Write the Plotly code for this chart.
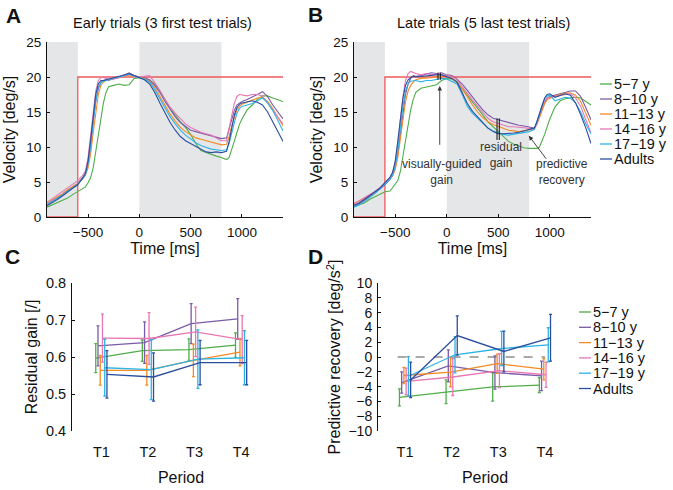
import plotly.graph_objects as go

W, H = 673, 490

# ---------------- data ----------------
GROUPS = ["5\u22127 y", "8\u221210 y", "11\u221213 y", "14\u221216 y", "17\u221219 y", "Adults"]
COLORS = ["#4fae4a", "#7a5ba8", "#f48a25", "#e877b4", "#2eb3e6", "#2b4f9e"]

TIME = [-900, -850, -800, -750, -700, -650, -600, -550,
        -525, -500, -475, -450, -425, -400, -375, -350, -325, -300,
        -250, -200, -150, -100, -50, 0, 50, 100, 150, 200, 250, 300, 350, 400,
        450, 500, 550, 600, 650, 700, 750, 800, 850,
        875, 900, 925, 950, 975, 1000,
        1050, 1100, 1150, 1200, 1250, 1300, 1350, 1400]

TARGET_T = [-900, -600, -600, 1400]
TARGET_V = [0, 0, 20, 20]

early_5_7 = [1.4, 1.7, 2.0, 2.3, 2.7, 3.2, 3.6, 4.0,
             4.3, 4.9, 5.6, 7.0, 9.5, 12.0, 14.5, 16.3, 17.8, 18.6,
             18.8, 19.0, 18.8, 18.9, 19.8, 19.9, 19.7, 19.5, 19.0, 18.0, 16.8, 15.5, 14.6, 13.6,
             12.8, 11.8, 10.5, 9.5, 9.2, 8.9, 8.7, 8.5, 8.2,
             8.5, 9.5, 10.8, 12.0, 13.2, 14.0,
             15.3, 16.0, 16.8, 17.3, 17.3, 17.0, 16.7, 16.5]
early_8_10 = [1.7, 2.2, 2.7, 3.2, 3.8, 4.3, 4.8, 5.7,
              6.2, 7.5, 10.0, 13.5, 16.5, 18.3, 19.2, 19.5, 19.6, 19.5,
              19.8, 19.9, 20.2, 20.6, 20.2, 19.9, 19.9, 19.6, 18.8, 17.8, 16.5, 15.3, 14.3, 13.5,
              12.9, 12.4, 12.2, 12.0, 11.9, 11.7, 11.4, 11.2, 11.3,
              12.5, 14.0, 15.2, 16.0, 16.3, 16.5,
              16.8, 17.1, 17.5, 17.9, 17.2, 16.0, 15.0, 14.0]
early_11_13 = [2.0, 2.4, 2.8, 3.3, 3.9, 4.4, 4.8, 5.5,
               6.0, 7.0, 9.0, 12.0, 15.0, 17.5, 18.8, 19.3, 19.5, 19.6,
               19.8, 19.9, 20.1, 20.3, 20.2, 20.0, 19.8, 19.4, 18.5, 17.2, 15.9, 14.7, 13.7, 12.8,
               12.2, 11.7, 11.3, 11.1, 10.9, 10.7, 10.5, 10.3, 10.4,
               11.5, 13.0, 14.3, 15.3, 15.8, 16.1,
               16.4, 16.7, 17.0, 17.1, 16.5, 15.5, 14.3, 13.0]
early_14_16 = [2.1, 2.6, 3.2, 3.7, 4.2, 4.7, 5.2, 6.0,
               6.6, 8.5, 11.5, 15.0, 18.0, 19.5, 19.9, 20.0, 19.7, 19.9,
               19.7, 19.9, 20.1, 20.4, 20.2, 20.0, 20.1, 20.2, 19.2, 18.1, 16.8, 15.7, 14.8, 14.0,
               13.3, 12.8, 12.4, 12.1, 11.9, 11.7, 11.3, 10.9, 10.9,
               12.5, 14.5, 16.2, 17.2, 17.5, 17.4,
               17.3, 17.5, 17.5, 17.3, 16.3, 15.2, 14.3, 13.3]
early_17_19 = [1.8, 2.2, 2.6, 3.1, 3.7, 4.2, 4.7, 5.5,
               6.0, 7.5, 10.0, 13.5, 16.5, 18.5, 19.2, 19.4, 19.5, 19.6,
               19.8, 20.0, 20.1, 20.4, 20.1, 19.9, 19.7, 19.3, 18.2, 16.9, 15.5, 14.3, 13.3, 12.4,
               11.7, 11.1, 10.6, 10.2, 9.9, 9.7, 9.6, 9.5, 9.6,
               10.5, 12.0, 13.5, 14.8, 15.5, 15.8,
               16.0, 16.2, 16.6, 17.0, 16.3, 15.2, 13.8, 12.3]
early_adults = [1.6, 2.0, 2.5, 3.0, 3.6, 4.1, 4.6, 5.6,
                6.3, 8.0, 11.0, 14.5, 17.5, 19.0, 19.5, 19.5, 19.6, 19.7,
                19.9, 20.0, 20.2, 20.5, 20.2, 19.9, 19.6, 19.0, 17.8, 16.3, 14.8, 13.5, 12.4, 11.5,
                10.9, 10.5, 10.1, 9.6, 9.3, 9.2, 9.3, 9.2, 9.4,
                10.8, 12.8, 14.5, 15.6, 16.1, 16.3,
                16.5, 16.6, 16.4, 16.0, 15.0, 13.5, 12.2, 10.8]

late_5_7 = [1.5, 1.7, 2.0, 2.5, 2.9, 3.3, 3.6, 3.7,
            4.2, 4.6, 5.2, 6.5, 8.8, 11.0, 13.5, 15.3, 16.8, 17.8,
            18.4, 18.6, 18.7, 18.9, 19.5, 19.8, 19.7, 19.2, 18.3, 17.4, 16.4, 15.5, 14.6, 13.6,
            12.9, 12.2, 11.5, 10.8, 10.4, 10.1, 9.9, 9.8, 9.8,
            9.8, 10.0, 10.8, 11.8, 12.9, 14.0,
            15.7, 16.6, 16.9, 17.0, 17.1, 17.0, 16.5, 16.0]
late_8_10 = [1.6, 1.9, 2.4, 2.9, 3.4, 4.0, 4.6, 5.4,
             6.0, 7.0, 9.0, 12.0, 15.0, 17.5, 19.0, 19.8, 20.2, 20.1,
             20.2, 20.4, 20.6, 20.5, 20.6, 20.3, 20.2, 19.7, 19.0, 18.1, 17.1, 16.2, 15.3, 14.6,
             14.1, 13.9, 13.6, 13.5, 13.3, 13.1, 13.0, 12.9, 12.7,
             13.3, 14.2, 15.3, 16.3, 17.0, 17.2,
             17.4, 17.6, 17.9, 18.0, 18.0, 17.2, 15.6, 13.9]
late_11_13 = [2.0, 2.2, 2.6, 3.0, 3.5, 4.1, 4.8, 5.4,
              5.9, 6.8, 8.5, 11.0, 14.0, 16.5, 18.0, 18.8, 19.3, 19.6,
              19.8, 19.8, 19.9, 20.0, 20.1, 20.0, 19.8, 19.3, 18.3, 17.2, 16.0, 15.0, 14.2, 13.6,
              13.2, 12.9, 12.6, 12.4, 12.3, 12.2, 12.3, 12.5, 12.6,
              13.3, 14.3, 15.3, 16.2, 16.8, 17.0,
              17.3, 17.5, 17.7, 17.7, 17.4, 16.5, 14.8, 13.1]
late_14_16 = [1.9, 2.3, 2.7, 3.1, 3.6, 4.2, 4.9, 5.6,
              6.3, 7.8, 10.5, 14.0, 17.2, 19.5, 20.5, 20.8, 20.6, 20.5,
              20.3, 20.5, 20.3, 20.4, 20.3, 20.2, 20.1, 19.6, 18.6, 17.7, 16.7, 15.8, 14.9, 14.1,
              13.6, 13.4, 13.1, 12.9, 12.9, 12.8, 12.7, 12.6, 12.6,
              13.4, 14.6, 15.8, 16.6, 17.0, 17.1,
              17.2, 17.4, 17.5, 17.6, 17.0, 15.8, 13.9, 12.0]
late_17_19 = [1.4, 1.7, 2.2, 2.7, 3.3, 4.0, 4.7, 5.4,
              6.0, 7.2, 9.5, 12.8, 15.8, 18.0, 19.0, 19.4, 19.5, 19.5,
              19.3, 19.5, 19.5, 19.7, 19.8, 19.7, 19.4, 19.0, 17.5, 15.8, 14.8, 14.1, 13.3, 12.7,
              12.3, 12.0, 11.8, 11.7, 11.8, 11.9, 12.1, 12.2, 12.5,
              13.5, 14.8, 16.0, 16.9, 17.3, 17.4,
              16.6, 16.9, 17.1, 17.0, 16.3, 15.0, 13.3, 11.9]
late_adults = [1.7, 2.0, 2.5, 3.0, 3.5, 4.1, 4.9, 5.7,
               6.4, 8.0, 10.8, 14.2, 17.0, 18.8, 19.6, 19.9, 20.1, 20.0,
               20.1, 20.2, 20.3, 20.3, 20.3, 20.1, 19.8, 19.3, 17.8, 16.2, 15.1, 14.3, 13.4, 12.7,
               12.2, 11.9, 11.9, 11.9, 12.0, 12.1, 12.3, 12.4, 12.7,
               13.6, 14.8, 16.1, 17.0, 17.5, 17.6,
               17.1, 17.3, 17.6, 17.4, 16.3, 14.6, 12.7, 10.5]

PERIODS = [1, 2, 3, 4]
PERIOD_LABELS = ["T1", "T2", "T3", "T4"]

gain_5_7 = [0.597, 0.617, 0.620, 0.632]
gain_8_10 = [0.630, 0.639, 0.690, 0.703]
gain_11_13 = [0.564, 0.564, 0.591, 0.613]
gain_14_16 = [0.651, 0.650, 0.668, 0.647]
gain_17_19 = [0.571, 0.566, 0.594, 0.598]
gain_adults = [0.553, 0.546, 0.585, 0.585]
gain_err_5_7 = [0.039, 0.029, 0.029, 0.033]
gain_err_8_10 = [0.054, 0.056, 0.054, 0.055]
gain_err_11_13 = [0.040, 0.040, 0.044, 0.037]
gain_err_14_16 = [0.065, 0.070, 0.067, 0.065]
gain_err_17_19 = [0.077, 0.081, 0.079, 0.073]
gain_err_adults = [0.064, 0.065, 0.060, 0.060]

rec_5_7 = [-5.45, -4.7, -4.05, -3.8]
rec_8_10 = [-3.45, -1.2, -2.1, -2.55]
rec_11_13 = [-2.5, -2.05, -0.9, -1.65]
rec_14_16 = [-3.3, -2.7, -1.85, -2.4]
rec_17_19 = [-2.6, 0.3, 1.15, 1.65]
rec_adults = [-3.1, 2.9, 0.75, 2.6]
rec_err_5_7 = [1.15, 1.6, 1.9, 1.0]
rec_err_8_10 = [1.43, 2.15, 2.25, 2.0]
rec_err_11_13 = [1.1, 2.0, 1.3, 1.45]
rec_err_14_16 = [1.8, 2.5, 2.3, 1.7]
rec_err_17_19 = [2.65, 2.45, 2.3, 2.3]
rec_err_adults = [2.4, 2.65, 2.75, 3.15]

EARLY = [early_5_7, early_8_10, early_11_13, early_14_16, early_17_19, early_adults]
LATE = [late_5_7, late_8_10, late_11_13, late_14_16, late_17_19, late_adults]
GAIN = [gain_5_7, gain_8_10, gain_11_13, gain_14_16, gain_17_19, gain_adults]
GAIN_ERR = [gain_err_5_7, gain_err_8_10, gain_err_11_13, gain_err_14_16, gain_err_17_19, gain_err_adults]
REC = [rec_5_7, rec_8_10, rec_11_13, rec_14_16, rec_17_19, rec_adults]
REC_ERR = [rec_err_5_7, rec_err_8_10, rec_err_11_13, rec_err_14_16, rec_err_17_19, rec_err_adults]

# ---------------- style ----------------
FONT = "Liberation Sans, Arial, sans-serif"
DODGE = [-0.12, -0.072, -0.024, 0.024, 0.072, 0.12]
GRAY = "#e5e6e8"
RED = "#ef5a5a"

def px_x(p):
    return p / W

def px_y(p):
    return 1 - p / H

fig = go.Figure()

# panels A and B
for series, xa, ya in [(EARLY, "x", "y"), (LATE, "x2", "y2")]:
    fig.add_trace(go.Scatter(x=TARGET_T, y=TARGET_V, mode="lines", xaxis=xa, yaxis=ya,
                             line=dict(color=RED, width=1.3), showlegend=False, hoverinfo="skip"))
    for vals, col, name in zip(series, COLORS, GROUPS):
        fig.add_trace(go.Scatter(x=TIME, y=vals, mode="lines", name=name, xaxis=xa, yaxis=ya,
                                 line=dict(color=col, width=1.1), showlegend=False))

# panels C and D
for series, errs, xa, ya in [(GAIN, GAIN_ERR, "x3", "y3"), (REC, REC_ERR, "x4", "y4")]:
    for i, (vals, err, col, name) in enumerate(zip(series, errs, COLORS, GROUPS)):
        fig.add_trace(go.Scatter(
            x=[p + DODGE[i] for p in PERIODS], y=vals, mode="lines", name=name,
            xaxis=xa, yaxis=ya, line=dict(color=col, width=1.3), showlegend=False,
            error_y=dict(type="data", array=err, visible=True, color=col, thickness=1.3, width=1.5)))

tickfont_ab = dict(family=FONT, size=13.5, color="#111")
tickfont_cd = dict(family=FONT, size=14.5, color="#111")
tickfont_d = dict(family=FONT, size=14, color="#111")
titlefont = dict(family=FONT, size=16, color="#111")

common_line = dict(showline=True, linecolor="#111", linewidth=1, ticks="inside", ticklen=3,
                   tickcolor="#111", showgrid=False, zeroline=False, automargin=False)

fig.update_layout(
    width=W, height=H, margin=dict(l=0, r=0, t=0, b=0, autoexpand=False),
    paper_bgcolor="white", plot_bgcolor="white", showlegend=False,
    xaxis=dict(domain=[px_x(47), px_x(283)], range=[-900, 1400], tickvals=[-500, 0, 500, 1000],
               anchor="y", tickfont=tickfont_ab, title=dict(text="Time [ms]", font=titlefont, standoff=0),
               ticklabelstandoff=3, **common_line),
    yaxis=dict(domain=[px_y(217), px_y(42)], range=[0, 25], tickvals=[0, 5, 10, 15, 20, 25],
               anchor="x", tickfont=tickfont_ab, title=dict(text="Velocity [deg/s]", font=titlefont, standoff=6),
               ticklabelstandoff=2, **common_line),
    xaxis2=dict(domain=[px_x(354), px_x(591)], range=[-900, 1400], tickvals=[-500, 0, 500, 1000],
                anchor="y2", tickfont=tickfont_ab, title=dict(text="Time [ms]", font=titlefont, standoff=0),
                ticklabelstandoff=3, **common_line),
    yaxis2=dict(domain=[px_y(217), px_y(42)], range=[0, 25], tickvals=[0, 5, 10, 15, 20, 25],
                anchor="x2", tickfont=tickfont_ab, title=dict(text="Velocity [deg/s]", font=titlefont, standoff=6),
                ticklabelstandoff=2, **common_line),
    xaxis3=dict(domain=[px_x(72), px_x(290)], range=[0.37, 5.05], tickvals=PERIODS, ticktext=PERIOD_LABELS,
                anchor="y3", tickfont=tickfont_cd, showline=False, ticks="", showgrid=False, zeroline=False,
                automargin=False, title=dict(text="Period", font=titlefont, standoff=13), ticklabelstandoff=10),
    yaxis3=dict(domain=[px_y(431), px_y(283)], range=[0.4, 0.8], tickvals=[0.4, 0.5, 0.6, 0.7, 0.8],
                tickformat=".1f", anchor="x3", tickfont=tickfont_cd,
                title=dict(text="Residual gain [/]", font=titlefont, standoff=4),
                ticklabelstandoff=2, **common_line),
    xaxis4=dict(domain=[px_x(378), px_x(592)], range=[0.42, 5.01], tickvals=PERIODS, ticktext=PERIOD_LABELS,
                anchor="y4", tickfont=tickfont_cd, showline=False, ticks="", showgrid=False, zeroline=False,
                automargin=False, title=dict(text="Period", font=titlefont, standoff=13), ticklabelstandoff=10),
    yaxis4=dict(domain=[px_y(431), px_y(283)], range=[-10, 10], tickvals=list(range(-10, 11, 2)),
                anchor="x4", tickfont=tickfont_d,
                title=dict(text="Predictive recovery [deg/s<sup>2</sup>]", font=titlefont, standoff=3),
                ticklabelstandoff=2, **common_line),
)

shapes = []
# gray shaded windows (blanking periods)
for xr, yr in [("x", "y"), ("x2", "y2")]:
    for x0, x1 in [(-900, -600), (0, 800)]:
        shapes.append(dict(type="rect", xref=xr, yref=yr, x0=x0, x1=x1, y0=0, y1=25,
                           fillcolor=GRAY, line=dict(width=0), layer="below"))
# zero line in D
shapes.append(dict(type="line", xref="x4", yref="y4", x0=0.84, x1=4.0, y0=0, y1=0,
                   line=dict(color="#555", width=1, dash="dash"), layer="below"))
# measurement marks in B
VG_MARKS = [(-85, -62), (19.6, 20.6)]
RG_MARKS = [(488, 510), (11.0, 14.1)]
for (xs, (y0, y1)) in [VG_MARKS, RG_MARKS]:
    for xm in xs:
        shapes.append(dict(type="line", xref="x2", yref="y2", x0=xm, x1=xm, y0=y0, y1=y1,
                           line=dict(color="#111", width=1)))

annotations = []
# manual legends (B and D)
for lx0, ly0, dy in [(600, 84, 15), (579, 312, 15.3)]:
    for i, (name, col) in enumerate(zip(GROUPS, COLORS)):
        yy = ly0 + i * dy
        shapes.append(dict(type="line", xref="paper", yref="paper", x0=px_x(lx0), x1=px_x(lx0 + 12),
                           y0=px_y(yy), y1=px_y(yy), line=dict(color=col, width=1.3)))
        annotations.append(dict(xref="paper", yref="paper", x=px_x(lx0 + 12), y=px_y(yy), text=name,
                                showarrow=False, xanchor="left", yanchor="middle",
                                font=dict(family=FONT, size=14.5, color="#111")))

# panel titles
annotations.append(dict(xref="paper", yref="paper", x=px_x(162), y=px_y(23),
                        text="Early trials (3 first test trials)", showarrow=False,
                        xanchor="center", yanchor="middle",
                        font=dict(family=FONT, size=14.5, color="#111")))
annotations.append(dict(xref="paper", yref="paper", x=px_x(483), y=px_y(23),
                        text="Late trials (5 last test trials)", showarrow=False,
                        xanchor="center", yanchor="middle",
                        font=dict(family=FONT, size=14.5, color="#111")))
# panel letters
for letter, lx, ly in [("A", 13, 15), ("B", 315, 14), ("C", 12, 256), ("D", 315, 256)]:
    annotations.append(dict(xref="paper", yref="paper", x=px_x(lx), y=px_y(ly), text="<b>%s</b>" % letter,
                            showarrow=False, xanchor="center", yanchor="middle",
                            font=dict(family=FONT, size=21, color="#111")))

# B annotations
ann_font = dict(family=FONT, size=12, color="#333")
annotations.append(dict(xref="x2", yref="y2", x=-49, y=6.4, text="visually-guided<br>gain",
                        showarrow=False, xanchor="center", yanchor="middle", font=ann_font))
annotations.append(dict(xref="x2", yref="y2", x=527, y=8.8, text="residual<br>gain",
                        showarrow=False, xanchor="center", yanchor="middle", font=ann_font))
annotations.append(dict(xref="x2", yref="y2", x=1122, y=6.4, text="predictive<br>recovery",
                        showarrow=False, xanchor="center", yanchor="middle", font=ann_font))
annotations.append(dict(xref="x2", yref="y2", x=-68, y=18.7, ax=-68, ay=10.1, axref="x2", ayref="y2",
                        text="", showarrow=True, arrowhead=2, arrowsize=1, arrowwidth=0.9, arrowcolor="#333"))
annotations.append(dict(xref="x2", yref="y2", x=797, y=11.6, ax=976, ay=8.1, axref="x2", ayref="y2",
                        text="", showarrow=True, arrowhead=2, arrowsize=1, arrowwidth=0.9, arrowcolor="#333"))

fig.update_layout(shapes=shapes, annotations=annotations)

fig.write_html("out.html", config={"displayModeBar": False},
               post_script="document.body.style.margin='0px';")
